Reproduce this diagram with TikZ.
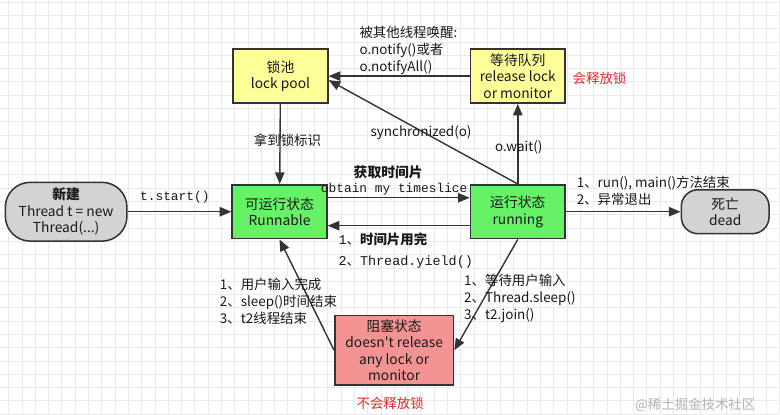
\documentclass[tikz,border=0pt]{standalone}
\usepackage{fontspec}
\setmainfont{Noto Sans CJK SC}
\setmonofont{Liberation Mono}
\usepackage{xcolor}
\usetikzlibrary{arrows.meta,positioning}

\definecolor{runcolor}{HTML}{66F266}
\definecolor{poolcolor}{HTML}{FFFF99}
\definecolor{blockcolor}{HTML}{F49393}
\definecolor{endcolor}{HTML}{D3D3D3}
\definecolor{edgecolor}{HTML}{333333}
\definecolor{notecolor}{HTML}{E8262B}
\definecolor{gridcolor}{HTML}{EAEAEA}

\begin{document}
\begin{tikzpicture}[
    x=0.03cm, y=-0.03cm,
    state/.style={draw=edgecolor, line width=1.3pt, minimum width=2.85cm, minimum height=1.62cm,
        align=center, inner sep=1pt, text=black!90, font=\fontsize{11.8}{14.2}\selectfont},
    runstate/.style={state, fill=runcolor},
    poolstate/.style={state, fill=poolcolor},
    endstate/.style={state, fill=endcolor},
    arr/.style={-{Triangle[length=10pt,width=8pt]}, line width=1.2pt, draw=edgecolor},
    lbl/.style={inner sep=0pt, align=left, text=black!90, font=\fontsize{11.5}{14.5}\selectfont},
    codelbl/.style={inner sep=0pt, text=black!90, font=\ttfamily\fontsize{11}{14}\selectfont},
    note/.style={lbl, text=notecolor}
]
% background grid
\fill[white] (0,0) rectangle (780,415);
\foreach \i in {0,...,58}
    \draw[gridcolor, line width=0.6pt] ({8.33+13.333*\i},0) -- ++(0,415);
\foreach \j in {0,...,31}
    \draw[gridcolor, line width=0.6pt] (0,{1.67+13.333*\j}) -- ++(780,0);
\useasboundingbox (0,0) rectangle (780,415);

% states
\node[endstate, rounded corners=0.75cm, minimum width=3.66cm, minimum height=1.77cm] (new) at (66,212)
    {\textbf{新建}\\Thread t = new\\Thread(...)};
\node[runstate] (runnable) at (280,212) {可运行状态\\Runnable};
\node[poolstate] (pool) at (281,76) {锁池\\lock pool};
\node[poolstate] (waitq) at (519,76) {等待队列\\release lock\\or monitor};
\node[runstate] (running) at (519,212) {运行状态\\running};
\node[endstate, rounded corners=0.5cm, minimum width=2.64cm, minimum height=1.32cm] (dead) at (727,212)
    {死亡\\dead};
\node[state, fill=blockcolor, minimum width=3.57cm, minimum height=2.1cm] (blocked) at (395,351)
    {阻塞状态\\doesn\textquotesingle t release\\any lock or\\monitor};

% transitions
\draw[arr] (new) -- (runnable);
\draw[arr] ([yshift=0.42cm]runnable.east) -- ([yshift=0.42cm]running.west);
\draw[arr] ([yshift=-0.42cm]running.west) -- ([yshift=-0.42cm]runnable.east);
\draw[arr] (pool) -- (runnable);
\draw[arr] (waitq) -- (pool);
\draw[arr] (running.north) -- ([yshift=-0.12cm]pool.east);
\draw[arr] (running) -- (waitq);
\draw[arr] (running) -- (dead);
\draw[arr] (running.south) -- (blocked.east);
\draw[arr] (blocked.west) -- (runnable.south);

% labels
\node[codelbl] (startlbl) at (175,197) {t.start()};
\node[lbl, font=\fontsize{11.8}{14}\selectfont\bfseries] (slicelbl) at (389,172) {获取时间片};
\node[codelbl] (obtainlbl) at (395,189) {obtain my timeslice};
\node[lbl, anchor=west, font=\fontsize{11.5}{18}\selectfont] (yieldlbl) at (339,251)
    {{\ttfamily 1}、\textbf{时间片用完}\\{\ttfamily 2}、{\ttfamily Thread.yield()}};
\node[lbl] (locklbl) at (288,140) {拿到锁标识};
\node[lbl, anchor=west] (notifylbl) at (360,50) {被其他线程唤醒:\\o.notify()或者\\o.notifyAll()};
\node[lbl] (synclbl) at (422,133) {synchronized(o)};
\node[lbl] (waitlbl) at (520,147) {o.wait()};
\node[note] (releaselbl) at (601,78) {会释放锁};
\node[lbl, anchor=west] (deadlbl) at (578,191) {1、run(), main()方法结束\\2、异常退出};
\node[lbl, anchor=west] (blocklbl) at (465,299) {1、等待用户输入\\2、Thread.sleep()\\3、t2.join()};
\node[lbl, anchor=west] (wakelbl) at (220,302) {1、用户输入完成\\2、sleep()时间结束\\3、t2线程结束};
\node[note] (noreleaselbl) at (391,404) {不会释放锁};
\node[lbl, text=black!30] (marklbl) at (697,406) {@稀土掘金技术社区};
\end{tikzpicture}
\end{document}
